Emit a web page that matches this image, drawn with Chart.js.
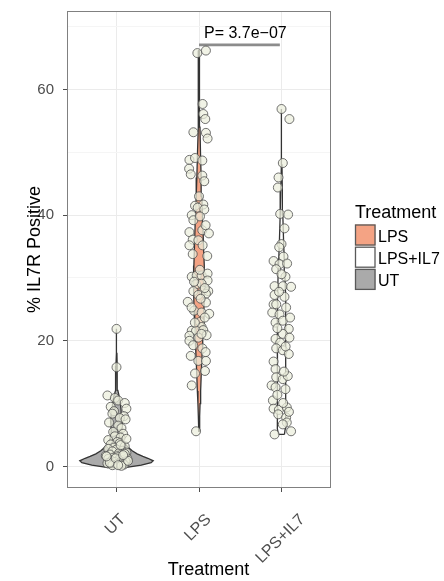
<!DOCTYPE html>
<html><head><meta charset="utf-8">
<script src="https://cdn.jsdelivr.net/npm/chart.js@4.4.1/dist/chart.umd.min.js"></script>
<style>html,body{margin:0;padding:0;background:#fff;}#wrap{width:444px;height:581px;position:relative;}</style>
</head><body><div id="wrap"><canvas id="c" width="444" height="581"></canvas></div>
<script>
// ---------- data ----------
const categories = ['UT', 'LPS', 'LPS+IL7'];
const yMajorTicks = [0, 20, 40, 60];
const yMinorTicks = [10, 30, 50, 70];
const legendTitle = 'Treatment';
const legendOrder = ['LPS', 'LPS+IL7', 'UT'];
const xTitle = 'Treatment';
const yTitle = '% IL7R Positive';
const pLabel = 'P= 3.7e\u221207';
const pBracketY = 67.1;
const pBracketFrom = 'LPS';
const pBracketTo = 'LPS+IL7';

// violin outlines: value levels and half-widths (category units)
const utViolinY = [-0.2, 0.2, 0.6, 0.9, 1.3, 1.6, 2.0, 2.5, 3.0, 3.5, 4.1, 5.0, 5.7, 6.5, 7.3, 8.2, 8.9, 10.0, 10.5, 11.3, 12.1, 13.0, 14.8, 16.0, 18.0, 20.0, 21.9];
const utViolinW = [0.10, 0.30, 0.42, 0.445, 0.38, 0.32, 0.25, 0.19, 0.145, 0.11, 0.085, 0.068, 0.064, 0.068, 0.072, 0.066, 0.056, 0.047, 0.044, 0.03, 0.016, 0.01, 0.008, 0.007, 0.005, 0.005, 0.003];
const lpsViolinY = [5.6, 8, 10, 12, 15, 18, 20, 22, 25, 28, 30, 32, 35, 38, 40, 43, 46, 50, 54, 58, 62, 66.2];
const lpsViolinW = [0.003, 0.008, 0.013, 0.02, 0.028, 0.038, 0.045, 0.052, 0.06, 0.065, 0.066, 0.062, 0.055, 0.048, 0.042, 0.034, 0.026, 0.018, 0.012, 0.008, 0.006, 0.003];
const il7ViolinY = [5.1, 6, 8, 10, 13, 16, 20, 24, 27, 30, 33, 36, 40, 44, 48, 52, 56.9];
const il7ViolinW = [0.036, 0.045, 0.05, 0.052, 0.053, 0.052, 0.05, 0.05, 0.048, 0.042, 0.033, 0.025, 0.016, 0.01, 0.006, 0.004, 0.003];

// jittered points: values and horizontal jitter (category units)
const utValues = [21.9, 15.8, 11.3, 10.9, 10.5, 10.1, 9.5, 9.2, 8.8, 8.4, 8.0, 7.7, 7.5, 7.0, 6.5, 6.1, 5.5, 5.2, 4.8, 4.6, 4.2, 3.9, 3.7, 3.5, 3.2, 3.0, 2.8, 2.7, 2.5, 2.4, 2.2, 2.1, 1.9, 1.8, 1.7, 1.6, 1.5, 1.4, 1.3, 1.2, 1.1, 1.0, 0.9, 0.8, 0.7, 0.6, 0.5, 0.4, 0.3, 0.2, 0.1, 0.6, 1.3, 2.0, 0.9, 1.6, 3.4, 4.4, 0.2, 1.8];
const utJitter = [0.00, 0.00, -0.11, -0.02, 0.02, 0.10, -0.07, 0.12, -0.03, -0.05, 0.09, 0.04, 0.11, -0.09, 0.02, 0.06, -0.04, 0.08, -0.02, 0.05, -0.10, 0.01, 0.04, -0.07, 0.10, -0.03, -0.10, 0.00, 0.07, -0.05, 0.12, 0.03, -0.08, 0.05, -0.13, 0.00, 0.09, -0.04, 0.13, -0.10, 0.03, 0.07, -0.06, 0.11, -0.02, 0.05, -0.11, 0.01, 0.09, -0.05, 0.06, -0.08, -0.01, 0.10, 0.14, -0.12, 0.05, 0.12, 0.02, 0.08];

const lpsValues = [65.8, 66.2, 57.7, 56.1, 55.3, 53.2, 53.1, 52.2, 48.8, 49.1, 48.7, 47.4, 46.5, 46.3, 45.4, 41.5, 41.7, 41.2, 40.9, 40.0, 39.2, 39.8, 37.3, 37.6, 37.1, 36.1, 36.0, 35.2, 35.2, 33.8, 33.5, 30.2, 30.4, 30.4, 30.7, 29.6, 29.0, 29.1, 27.9, 28.0, 27.9, 27.3, 27.5, 26.2, 26.1, 24.8, 24.5, 24.3, 23.0, 22.2, 21.6, 21.6, 21.7, 20.8, 20.5, 20.9, 20.0, 18.8, 17.6, 16.8, 16.8, 14.8, 15.2, 12.9, 5.6, 31.3, 29.4, 28.4, 26.7, 25.3, 23.7, 22.9, 21.1, 19.3, 18.2, 43.0, 38.4];
const lpsJitter = [-0.02, 0.084, 0.044, 0.052, 0.076, -0.068, 0.084, 0.104, -0.116, -0.048, 0.04, -0.12, -0.1, 0.04, 0.064, -0.048, 0.052, -0.016, 0.064, -0.088, -0.068, 0.012, -0.116, 0.04, 0.12, -0.076, -0.008, -0.116, 0.044, -0.076, 0.1, -0.088, -0.028, 0.032, 0.104, 0.104, -0.036, 0.032, -0.068, 0.052, 0.112, -0.008, 0.084, -0.136, 0.084, -0.06, 0.032, 0.124, 0.012, 0.032, -0.088, -0.036, 0.052, -0.116, -0.008, 0.092, -0.116, 0.04, -0.1, -0.008, 0.084, -0.048, 0.072, -0.088, -0.036, 0.01, -0.06, 0.07, 0.02, -0.09, 0.07, -0.05, 0.03, -0.07, 0.08, 0.0, 0.08];

const il7Values = [56.9, 55.3, 48.3, 46.0, 44.4, 40.2, 40.1, 37.9, 35.4, 34.9, 33.4, 32.7, 32.2, 32.3, 31.4, 30.2, 28.7, 28.7, 28.6, 27.0, 27.3, 25.8, 25.8, 25.3, 24.5, 24.2, 22.9, 23.2, 23.7, 21.9, 21.1, 20.5, 20.3, 19.7, 18.8, 18.5, 17.9, 16.7, 15.5, 14.2, 13.9, 14.4, 12.9, 12.6, 12.3, 10.5, 9.2, 9.0, 9.4, 8.3, 7.8, 7.0, 6.7, 5.6, 5.1, 30.6, 27.8, 22.0, 19.1, 15.1, 11.4, 10.1, 8.7];
const il7Jitter = [0.0, 0.096, 0.016, -0.036, -0.044, -0.016, 0.08, 0.036, 0.0, -0.028, 0.024, -0.096, -0.024, 0.068, -0.064, 0.048, -0.084, 0.016, 0.116, 0.036, -0.084, -0.096, -0.064, 0.056, -0.112, -0.024, -0.072, 0.016, 0.104, 0.088, 0.016, 0.096, -0.072, -0.016, -0.064, 0.016, 0.088, -0.096, -0.072, -0.064, 0.016, 0.076, -0.12, -0.072, 0.048, -0.104, -0.096, -0.032, 0.064, -0.04, 0.056, 0.064, 0.016, 0.116, -0.084, 0.0, -0.03, -0.05, 0.05, 0.03, -0.05, 0.02, 0.09];

// ---------- styles ----------
const FONT = "'Liberation Sans', Arial, Helvetica, sans-serif";
const fillColors = { 'UT': '#aaaaaa', 'LPS': '#f4a384', 'LPS+IL7': '#ffffff' };
const outline = '#333333';

// ---------- build datasets ----------
function catPos(name) { return categories.indexOf(name) + 1; }
function violin(name, ys, ws) {
  const c = catPos(name), pts = [];
  for (let i = 0; i < ys.length; i++) pts.push({ x: c + ws[i], y: ys[i] });
  for (let i = ys.length - 1; i >= 0; i--) pts.push({ x: c - ws[i], y: ys[i] });
  pts.push({ x: c + ws[0], y: ys[0] });
  return {
    type: 'line', label: name + ' violin', data: pts, fill: 'shape',
    backgroundColor: fillColors[name], borderColor: outline, borderWidth: 1.3,
    pointRadius: 0, tension: 0, order: 3
  };
}
function jitter(name, vals, jit) {
  const c = catPos(name);
  return {
    type: 'scatter', label: name + ' points',
    data: vals.map((v, i) => ({ x: c + jit[i], y: v })),
    pointRadius: 4.5, pointBorderWidth: 1,
    backgroundColor: 'rgba(236,238,220,0.72)', borderColor: 'rgba(80,80,80,0.8)', order: 1
  };
}
const datasets = [
  violin('UT', utViolinY, utViolinW),
  violin('LPS', lpsViolinY, lpsViolinW),
  violin('LPS+IL7', il7ViolinY, il7ViolinW),
  jitter('UT', utValues, utJitter),
  jitter('LPS', lpsValues, lpsJitter),
  jitter('LPS+IL7', il7Values, il7Jitter),
  {
    type: 'line', label: 'bracket',
    data: [{ x: catPos(pBracketFrom), y: pBracketY }, { x: catPos(pBracketTo) - 0.02, y: pBracketY }],
    borderColor: '#8c8c8c', borderWidth: 2.6, pointRadius: 0, fill: false, order: 2
  }
];

// ---------- decorations ----------
const deco = {
  id: 'deco',
  afterDraw(chart) {
    const ctx = chart.ctx, a = chart.chartArea, xs = chart.scales.x, ys = chart.scales.y;
    ctx.save();
    // panel border
    ctx.strokeStyle = '#808080'; ctx.lineWidth = 1;
    ctx.strokeRect(Math.round(a.left) + 0.5, Math.round(a.top) + 0.5, Math.round(a.right - a.left) - 1, Math.round(a.bottom - a.top) - 1);
    // p-value text
    ctx.fillStyle = '#000'; ctx.font = '16px ' + FONT; ctx.textAlign = 'left'; ctx.textBaseline = 'alphabetic';
    ctx.fillText(pLabel, xs.getPixelForValue(catPos(pBracketFrom)) + 5, ys.getPixelForValue(pBracketY) - 6.5);
    // x tick labels (rotated 45, centred)
    ctx.fillStyle = '#4d4d4d'; ctx.font = '16px ' + FONT; ctx.textAlign = 'center'; ctx.textBaseline = 'middle';
    categories.forEach((c, i) => {
      const w = ctx.measureText(c).width;
      const px = xs.getPixelForValue(i + 1) - 1;
      const py = a.bottom + 29 + w * 0.3536;
      ctx.save(); ctx.translate(px, py); ctx.rotate(-Math.PI / 4); ctx.fillText(c, 0, 0); ctx.restore();
    });
    // axis titles
    ctx.fillStyle = '#000'; ctx.font = '18px ' + FONT; ctx.textAlign = 'center'; ctx.textBaseline = 'alphabetic';
    ctx.fillText(xTitle, 208.5, 575);
    ctx.save(); ctx.translate(40, (a.top + a.bottom) / 2); ctx.rotate(-Math.PI / 2); ctx.fillText(yTitle, 0, 0); ctx.restore();
    // legend
    ctx.textAlign = 'left';
    ctx.fillText(legendTitle, 355, 217.7);
    ctx.font = '16px ' + FONT;
    legendOrder.forEach((name, i) => {
      const y0 = 224.5 + i * 22.2;
      ctx.fillStyle = fillColors[name]; ctx.fillRect(355, y0, 20.5, 21);
      ctx.strokeStyle = '#595959'; ctx.lineWidth = 1.3; ctx.strokeRect(355.5, y0 + 0.5, 19.5, 20);
      ctx.fillStyle = '#000'; ctx.fillText(name, 378, y0 + 17.2);
    });
    ctx.restore();
  }
};

new Chart(document.getElementById('c'), {
  type: 'scatter',
  data: { datasets },
  plugins: [deco],
  options: {
    responsive: false, animation: false, devicePixelRatio: 1,
    layout: { padding: { top: 11, right: 113, left: 0, bottom: 0 } },
    plugins: { legend: { display: false }, tooltip: { enabled: false } },
    scales: {
      x: {
        type: 'linear', min: 0.4, max: 3.6,
        afterBuildTicks: s => { s.ticks = categories.map((c, i) => ({ value: i + 1 })); },
        ticks: { display: false },
        grid: { color: '#ebebeb', tickColor: '#4d4d4d', tickLength: 4, lineWidth: 1 },
        border: { display: false },
        afterFit: s => { s.height = 93; s.paddingLeft = 0; s.paddingRight = 0; }
      },
      y: {
        type: 'linear', min: -3.43, max: 72.5,
        afterBuildTicks: s => { s.ticks = yMajorTicks.concat(yMinorTicks).sort((p, q) => p - q).map(v => ({ value: v })); },
        ticks: {
          callback: v => yMajorTicks.includes(v) ? String(v) : '',
          font: { family: FONT, size: 15 }, color: '#4d4d4d', padding: 9
        },
        grid: {
          color: c => yMajorTicks.includes(c.tick && c.tick.value) ? '#ebebeb' : '#f5f5f5',
          tickColor: c => yMajorTicks.includes(c.tick && c.tick.value) ? '#4d4d4d' : 'rgba(0,0,0,0)',
          tickLength: 4, lineWidth: 1
        },
        border: { display: false },
        afterFit: s => { s.width = 67; s.paddingTop = 0; s.paddingBottom = 0; }
      }
    }
  }
});
</script>
</body></html>
